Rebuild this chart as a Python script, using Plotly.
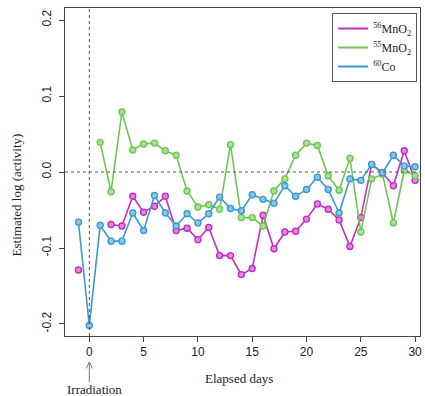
import plotly.graph_objects as go

days = list(range(-1, 31))
mno2_56 = [-0.129, None, None, -0.069, -0.071, -0.032, -0.053, -0.045, -0.032, -0.077,
           -0.074, -0.089, -0.073, -0.110, -0.110, -0.135, -0.127, -0.057, -0.101, -0.079,
           -0.078, -0.062, -0.042, -0.049, -0.063, -0.098, -0.060, 0.010, -0.001, -0.018,
           0.028, -0.011]
mno2_55 = [None, None, 0.039, -0.026, 0.079, 0.029, 0.037, 0.038, 0.028, 0.022,
           -0.025, -0.046, -0.043, -0.049, 0.036, -0.060, -0.060, -0.071, -0.025, -0.009,
           0.022, 0.038, 0.035, -0.005, -0.024, 0.018, -0.079, -0.009, -0.003, -0.067,
           0.002, -0.005]
co_60 = [-0.066, -0.202, -0.070, -0.091, -0.091, -0.054, -0.077, -0.031, -0.054, -0.071,
         -0.055, -0.067, -0.055, -0.033, -0.048, -0.051, -0.030, -0.036, -0.041, -0.018,
         -0.032, -0.023, -0.007, -0.023, -0.054, -0.009, -0.011, 0.010, -0.001, 0.022,
         0.008, 0.007]

series = [
    ("<sup>56</sup>MnO<sub>2</sub>", mno2_56, "#C42BC4", "#DC8ADC"),
    ("<sup>55</sup>MnO<sub>2</sub>", mno2_55, "#6CC850", "#A8E098"),
    ("<sup>60</sup>Co", co_60, "#3A9AD0", "#8CC6E6"),
]

x_ticks = [0, 5, 10, 15, 20, 25, 30]
y_ticks = [-0.2, -0.1, 0.0, 0.1, 0.2]
y_tick_labels = ["-0.2", "-0.1", "0.0", "0.1", "0.2"]

fig = go.Figure()
for name, vals, col, fill in series:
    fig.add_trace(go.Scatter(
        x=days, y=vals, mode="lines+markers", showlegend=False,
        line=dict(color=col, width=1.6),
        marker=dict(size=6, color=fill, line=dict(color=col, width=1.4)),
        connectgaps=False,
    ))
for name, vals, col, fill in series:
    fig.add_trace(go.Scatter(
        x=[None], y=[None], mode="lines", name=name,
        line=dict(color=col, width=2),
    ))

# reference lines
fig.add_vline(x=0, line=dict(color="#555555", width=1, dash="dot"))
fig.add_hline(y=0, line=dict(color="#555555", width=1, dash="dot"))

serif = "Liberation Serif, DejaVu Serif, serif"
sans = "Liberation Sans, Arial, sans-serif"

# Irradiation arrow
fig.add_shape(type="path", xref="x", yref="paper",
              path="M 0,-0.140 L 0,-0.0793 M -0.28,-0.099 L 0,-0.0793 L 0.28,-0.099",
              line=dict(color="#777777", width=1))
fig.add_annotation(x=0.5, xref="x", y=-0.1616, yref="paper", yanchor="middle",
                   text="Irradiation", showarrow=False,
                   font=dict(family=serif, size=13, color="#222222"))
fig.add_annotation(x=0.49, xref="paper", y=-0.13, yref="paper", yanchor="middle",
                   text="Elapsed days", showarrow=False,
                   font=dict(family=serif, size=13, color="#222222"))
fig.add_annotation(x=-0.134, xref="paper", xanchor="center", y=0.43, yref="paper",
                   text="Estimated log (activity)", showarrow=False, textangle=-90,
                   font=dict(family=serif, size=13, color="#222222"))

fig.update_layout(
    width=425, height=396,
    margin=dict(l=65, r=3, t=8, b=60),
    paper_bgcolor="white", plot_bgcolor="white",
    legend=dict(x=0.992, y=0.985, xanchor="right", yanchor="top",
                bordercolor="#555555", borderwidth=1, bgcolor="white",
                itemwidth=30,
                font=dict(family=serif, size=12, color="#222222")),
)
fig.update_xaxes(range=[-2.24, 30.45], tickvals=x_ticks, showgrid=False, zeroline=False,
                 showline=True, mirror=True, linecolor="#444444", linewidth=1,
                 ticks="outside", ticklen=5, tickcolor="#444444",
                 tickfont=dict(family=sans, size=12, color="#222222"))
fig.update_yaxes(range=[-0.2158, 0.2158], tickvals=y_ticks, ticktext=y_tick_labels,
                 showgrid=False, zeroline=False, tickangle=-90, ticklabelstandoff=3,
                 showline=True, mirror=True, linecolor="#444444", linewidth=1,
                 ticks="outside", ticklen=5, tickcolor="#444444",
                 tickfont=dict(family=sans, size=12, color="#222222"))

fig.write_html(
    "out.html",
    config={"displayModeBar": False},
    post_script="document.body.style.margin='0';document.body.style.overflow='hidden';",
)
